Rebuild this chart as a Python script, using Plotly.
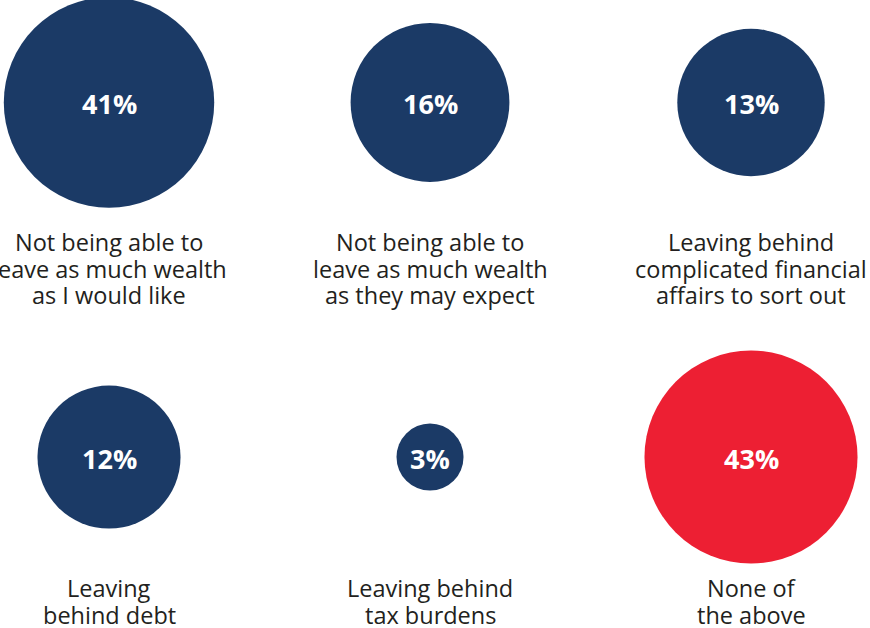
import math
import plotly.graph_objects as go

# Survey responses: share of respondents worried about each outcome
categories = [
    "Not being able to\nleave as much wealth\nas I would like",
    "Not being able to\nleave as much wealth\nas they may expect",
    "Leaving behind\ncomplicated financial\naffairs to sort out",
    "Leaving\nbehind debt",
    "Leaving behind\ntax burdens",
    "None of\nthe above",
]
values = [41, 16, 13, 12, 3, 43]
grid_col = [0, 1, 2, 0, 1, 2]
grid_row = [0, 0, 0, 1, 1, 1]

NAVY = "#1b3a66"
RED = "#ed1f33"
TEXT = "#231f20"
colors = [NAVY, NAVY, NAVY, NAVY, NAVY, RED]

# Bubble diameter (px) grows logarithmically with the percentage
diameters = [6.76 + 54.85 * math.log(v) for v in values]

fig = go.Figure()
fig.add_trace(go.Scatter(
    x=grid_col,
    y=grid_row,
    mode="markers",
    marker=dict(size=diameters, sizemode="diameter", color=colors,
                line=dict(width=0), opacity=1),
    hoverinfo="skip",
    cliponaxis=False,
))

annotations = []

# Percentage inside each bubble
for v, c, r in zip(values, grid_col, grid_row):
    annotations.append(dict(
        x=c, y=r, xref="x", yref="y",
        text=f"<b>{v}%</b>", showarrow=False,
        xanchor="center", yanchor="middle", yshift=-1,
        font=dict(family="Open Sans", size=27, color="white"),
    ))

# Captions under each bubble, one annotation per line for tight leading
caption_offset = {0: 0.3935, 1: 0.3695}
LEADING = 26.5
for label, c, r in zip(categories, grid_col, grid_row):
    for i, line in enumerate(label.split("\n")):
        annotations.append(dict(
            x=c, y=r + caption_offset[r], xref="x", yref="y",
            text=line, showarrow=False,
            xanchor="center", yanchor="middle",
            yshift=-LEADING * i,
            font=dict(family="Open Sans", size=23.5, color=TEXT),
        ))

fig.update_layout(
    width=870, height=628,
    margin=dict(l=0, r=0, t=0, b=0),
    paper_bgcolor="white", plot_bgcolor="white",
    showlegend=False,
    annotations=annotations,
    xaxis=dict(range=[-0.3396, 2.3707], visible=False, fixedrange=True),
    yaxis=dict(range=[1.482, -0.289], visible=False, fixedrange=True),
)

fig.write_html("out.html")
